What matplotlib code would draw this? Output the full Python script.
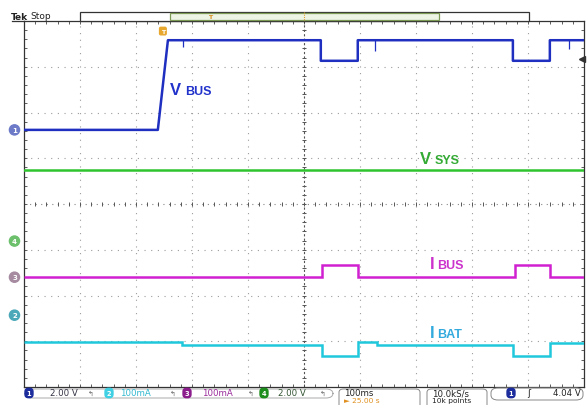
import matplotlib
matplotlib.use("Agg")
import numpy as np
import matplotlib.pyplot as plt
from matplotlib.patches import FancyBboxPatch, Rectangle
from matplotlib.lines import Line2D

W, H = 587, 406

# time axis in divisions (100 ms/div, 10 div), levels in divisions from centre
vbus_t = [0, 2.39, 2.57, 5.30, 5.30, 5.96, 5.96, 8.73, 8.73, 9.39, 9.39, 10]
vbus_v = [1.62, 1.62, 3.58, 3.58, 3.13, 3.13, 3.58, 3.58, 3.13, 3.13, 3.58, 3.58]
vbus_glitch_t = [2.84, 6.27, 9.73]
vbus_glitch_v = [3.43, 3.34, 3.39]
vbus_high = 3.58

vsys_t = [0, 10]
vsys_v = [0.74, 0.74]

ibus_edges = [0, 5.32, 5.96, 8.77, 9.39, 10]
ibus_v = [-1.60, -1.33, -1.60, -1.33, -1.60]

ibat_edges = [0, 2.82, 5.32, 5.96, 6.30, 8.73, 9.39, 10]
ibat_v = [-3.02, -3.08, -3.32, -3.02, -3.08, -3.32, -3.04]

# channel ground markers on the left edge
ch_names = ["1", "4", "3", "2"]
ch_offsets = [1.62, -0.81, -1.60, -2.43]
ch_marker_colors = ["#6c7ac8", "#6cc06c", "#a58aa0", "#4aa8b8"]

# status bar
ch_scales = ["2.00 V", "100mA", "100mA", "2.00 V"]
timebase = "100ms"
position = "\u25ba 25.00 s"
sample_rate = "10.0kS/s"
record_len = "10k points"
trig_level = "4.04 V"

C_VBUS = "#1f2fc0"
C_VSYS = "#2ec42e"
C_IBUS = "#d020d0"
C_IBAT = "#20c8dc"


def fx(x):
    return x / W


def fy(y):
    return 1 - y / H


fig = plt.figure(figsize=(W / 100, H / 100), dpi=100)
fig.patch.set_facecolor("white")
ax = fig.add_axes([fx(24), fy(388), 560 / W, 366 / H])
ax.set_xlim(0, 10)
ax.set_ylim(-4, 4)

# graticule
for gx in range(1, 10):
    if gx != 5:
        ax.axvline(gx, color="#9c9c9c", ls=(0, (1, 5)), lw=0.8, zorder=1)
for gy in range(-3, 4):
    if gy != 0:
        ax.axhline(gy, color="#9c9c9c", ls=(0, (1, 5)), lw=0.8, zorder=1)
ax.axvline(5, color="#555555", ls=(0, (2, 2)), lw=0.8, zorder=1)
ax.axhline(0, color="#888888", ls=(0, (1, 4)), lw=0.8, zorder=1)
minor_x = np.arange(0, 10.01, 0.2)
minor_y = np.arange(-4, 4.01, 0.2)
ax.plot(minor_x, np.zeros_like(minor_x), ls="none", marker="|", ms=3.5,
        mew=0.7, color="#555555", zorder=1)
ax.plot(np.full_like(minor_y, 5), minor_y, ls="none", marker="_", ms=3.5,
        mew=0.7, color="#555555", zorder=1)

ax.set_xticks(minor_x)
ax.set_yticks(minor_y)
ax.tick_params(direction="in", length=2.5, width=0.6, color="#444444",
               top=True, right=True, labelbottom=False, labelleft=False)
for sp in ax.spines.values():
    sp.set_color("#333333")
    sp.set_linewidth(0.9)

# traces
ax.plot(vbus_t, vbus_v, color=C_VBUS, lw=1.8, zorder=3)
ax.vlines(vbus_glitch_t, vbus_glitch_v, vbus_high, color=C_VBUS, lw=0.9, zorder=3)
ax.plot(vsys_t, vsys_v, color=C_VSYS, lw=1.8, zorder=3)
ax.stairs(ibus_v, ibus_edges, baseline=None, color=C_IBUS, lw=1.8, zorder=3)
ax.stairs(ibat_v, ibat_edges, baseline=None, color=C_IBAT, lw=1.8, zorder=3)

# trace labels (big first letter, smaller caps after)
lab_font = "Liberation Sans"
labels = [("V", "BUS", 2.61, 2.88, 2.40, "#2233cc"),
          ("V", "SYS", 7.07, 7.34, 0.90, "#33aa33"),
          ("I", "BUS", 7.25, 7.37, -1.40, "#cc33cc"),
          ("I", "BAT", 7.25, 7.37, -2.91, "#33aadd")]
for big, small, x0, x1, yb, col in labels:
    ax.text(x0, yb, big, color=col, fontsize=12, fontweight="bold",
            family=lab_font, va="baseline", ha="left", zorder=4)
    ax.text(x1, yb, small, color=col, fontsize=9, fontweight="bold",
            family=lab_font, va="baseline", ha="left", zorder=4)

# channel markers at the left edge
for name, off, col in zip(ch_names, ch_offsets, ch_marker_colors):
    ax.text(-0.17, off, name, color="white", fontsize=5, ha="center",
            va="center", clip_on=False, fontweight="bold",
            bbox=dict(boxstyle="circle,pad=0.3", fc=col, ec=col))

# trigger position marker and trigger level arrow
ax.text(2.48, 3.78, "T", color="white", fontsize=4.5, ha="center", va="center",
        fontweight="bold",
        bbox=dict(boxstyle="round,pad=0.2", fc="#e8a830", ec="#e8a830"))
ax.plot([9.97], [3.17], marker="<", ms=4, color="#333333", clip_on=False)

# top record bar
fig.add_artist(Line2D([fx(12), fx(24)], [fy(22), fy(22)], color="#333333", lw=0.9))
fig.add_artist(Rectangle((fx(80), fy(22)), fx(529) - fx(80), 9 / H,
                         fc="white", ec="#333333", lw=0.9))
fig.add_artist(Rectangle((fx(170), fy(21)), fx(439) - fx(170), 7 / H,
                         fc="#eef4e4", ec="#7d9a55", lw=0.9))
fig.add_artist(Line2D([fx(304), fx(304)], [fy(13), fy(22)], color="#e0a030",
                      lw=0.8, ls=(0, (1, 1))))
fig.text(fx(210), fy(17.5), "T", color="#d89020", fontsize=4.5, ha="center",
         va="center", fontweight="bold")
fig.text(fx(11), fy(17), "Tek", fontsize=6.5, fontweight="bold",
         va="center", ha="left", color="#222222")
fig.text(fx(30), fy(16.5), "Stop", fontsize=6.5, va="center", ha="left",
         color="#222222")

# status bar
ty = fy(394)
fs = 6.2
fig.add_artist(FancyBboxPatch((fx(25), fy(399)), fx(333) - fx(25), 9 / H,
                              boxstyle="round,pad=0,rounding_size=0.012",
                              fc="none", ec="#aaaaaa", lw=0.7))
ch_bar_colors = ["#1c2c9c", "#40d0e4", "#8c1c8c", "#1c8c1c"]
ch_text_colors = ["#333344", "#30b8d0", "#9a2a9a", "#335533"]
oval_x = [29, 109, 187, 264]
text_x = [50, 120, 202, 278]
bw_x = [91, 173, 251, 323]
scale_names = ["1", "2", "3", "4"]
for i in range(4):
    fig.text(fx(oval_x[i]), ty, scale_names[i], color="white", fontsize=4.8,
             ha="center", va="center", fontweight="bold",
             bbox=dict(boxstyle="round,pad=0.25,rounding_size=0.5",
                       fc=ch_bar_colors[i], ec=ch_bar_colors[i]))
    fig.text(fx(text_x[i]), ty, ch_scales[i], color=ch_text_colors[i],
             fontsize=fs, ha="left", va="center")
    fig.text(fx(bw_x[i]), ty, "\u21b0", color="#666666", fontsize=5,
             ha="center", va="center")

fig.add_artist(FancyBboxPatch((fx(339), fy(410)), fx(420) - fx(339), 20 / H,
                              boxstyle="round,pad=0,rounding_size=0.008",
                              fc="none", ec="#888888", lw=0.7))
fig.text(fx(344), ty, timebase, fontsize=fs, ha="left", va="center",
         color="#222222")
fig.text(fx(344), fy(401.5), position, fontsize=5.4, ha="left", va="center",
         color="#e09020")
fig.add_artist(FancyBboxPatch((fx(427), fy(410)), fx(487) - fx(427), 20 / H,
                              boxstyle="round,pad=0,rounding_size=0.008",
                              fc="none", ec="#888888", lw=0.7))
fig.text(fx(432), ty, sample_rate, fontsize=fs, ha="left", va="center",
         color="#222222")
fig.text(fx(432), fy(401.5), record_len, fontsize=5.4, ha="left", va="center",
         color="#222222")
fig.add_artist(FancyBboxPatch((fx(491), fy(401)), fx(583) - fx(491), 12 / H,
                              boxstyle="round,pad=0,rounding_size=0.012",
                              fc="none", ec="#888888", lw=0.7))
fig.text(fx(511), ty, "1", color="white", fontsize=4.8, ha="center",
         va="center", fontweight="bold",
         bbox=dict(boxstyle="round,pad=0.25,rounding_size=0.5",
                   fc="#1c2c9c", ec="#1c2c9c"))
fig.text(fx(529), ty, "\u0283", fontsize=6.5, ha="center", va="center",
         color="#222222")
fig.text(fx(581), ty, trig_level, fontsize=fs, ha="right", va="center",
         color="#222222")

fig.savefig("out.png", dpi=100)
